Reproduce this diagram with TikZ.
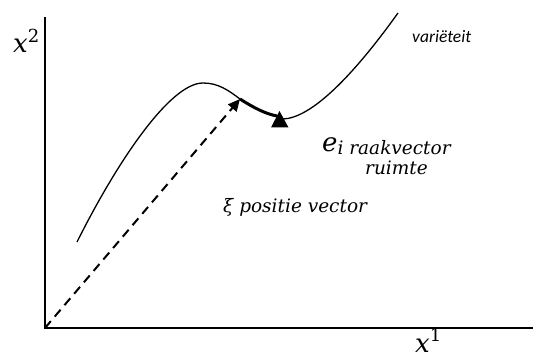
\documentclass[tikz,border=0pt]{standalone}
\usepackage{fontspec}
\setmainfont{DejaVu Serif}
\newfontfamily\varfont{Carlito}
\usetikzlibrary{arrows.meta}
\tikzset{
  axis/.style={line width=1.8pt},
  curveline/.style={line width=1.3pt},
  dashvec/.style={line width=2pt, dash pattern=on 9pt off 6pt, -{Triangle[length=12pt,width=11pt]}},
  tanvec/.style={line width=3pt},
  tiptri/.style={fill=black},
  lbl/.style={inner sep=0pt, anchor=base west, font=\fontsize{18.5}{20}\selectfont\itshape},
  big/.style={inner sep=0pt, anchor=base west, font=\fontsize{26}{28}\selectfont\itshape}
}
\begin{document}
\begin{tikzpicture}[x=1pt,y=-1pt]
\useasboundingbox (0,0) rectangle (533,358);
\coordinate (O) at (45,328);
\coordinate (Ytop) at (45,17);
\coordinate (Xend) at (533,328);
\coordinate (S) at (77,242);
\coordinate (Pk) at (203,83);
\coordinate (P) at (240,99);
\coordinate (Q) at (277,116);
\coordinate (R) at (283,119);
\coordinate (E) at (398,13);
\draw[axis] (Ytop) -- (O) -- (Xend);
\draw[curveline] (S) .. controls (117,162) and (170,83) .. (Pk)
  .. controls (218,83) and (228,90) .. (P);
\draw[curveline] (R) .. controls (310,118) and (350,80) .. (E);
\draw[tanvec] (P) .. controls (254,108) and (266,114) .. (Q);
\fill[tiptri] (271,127.5) -- (279.5,111) -- (288.5,127.5) -- cycle;
\draw[dashvec] (O) -- (P);
\node[big] (x2) at (13,53) {x\raisebox{10pt}{\fontsize{18}{19}\selectfont\upshape 2}};
\node[big] (x1) at (415,352) {x\raisebox{10pt}{\fontsize{18}{19}\selectfont\upshape 1}};
\node[inner sep=0pt, anchor=base west, font=\fontsize{17.5}{19}\selectfont\varfont\itshape] (var) at (412,43) {variëteit};
\node[lbl] (ei) at (322,152) {{\fontsize{26}{28}\selectfont e}\raisebox{-3pt}{i raakvector}};
\node[lbl] (ru) at (365,175) {ruimte};
\node[lbl] (xi) at (223,213) {ξ positie vector};
\end{tikzpicture}
\end{document}
